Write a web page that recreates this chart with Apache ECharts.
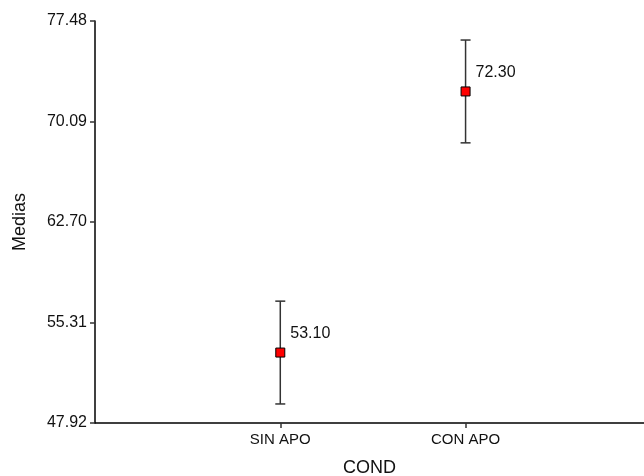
<!DOCTYPE html>
<html>
<head>
<meta charset="utf-8">
<script src="https://cdn.jsdelivr.net/npm/echarts@6/dist/echarts.min.js"></script>
<style>
html,body{margin:0;padding:0;background:#fff;}
#chart{width:644px;height:476px;}
</style>
</head>
<body>
<div id="chart"></div>
<script>
var categories = ['SIN APO', 'CON APO'];
var means = [53.10, 72.30];
var lower = [49.32, 68.52];
var upper = [56.88, 76.08];
var yTickLabels = ['47.92', '55.31', '62.70', '70.09', '77.48'];

var yTicks = yTickLabels.map(Number);
var xPositions = categories.map(function (c, i) { return i + 1; });
var font = '"Liberation Sans", Arial, sans-serif';

var errData = categories.map(function (c, i) { return [xPositions[i], lower[i], upper[i]]; });
var ptData = categories.map(function (c, i) { return [xPositions[i], means[i]]; });

var chart = echarts.init(document.getElementById('chart'));
chart.setOption({
  animation: false,
  backgroundColor: '#fff',
  grid: { left: 95, right: 0, top: 21, bottom: 53, outerBoundsMode: 'none', containLabel: false },
  xAxis: {
    type: 'value', min: 0, max: 2.963,
    name: 'COND', nameLocation: 'middle', nameGap: 36,
    nameTextStyle: { fontFamily: font, fontSize: 18, color: '#111' },
    axisLine: { lineStyle: { color: '#000', width: 1.5 } },
    axisTick: { customValues: xPositions, length: 5, lineStyle: { color: '#333', width: 1.5 } },
    axisLabel: {
      customValues: xPositions, margin: 9,
      fontFamily: font, fontSize: 15, color: '#111',
      formatter: function (v) { return categories[Math.round(v) - 1] || ''; }
    },
    splitLine: { show: false }
  },
  yAxis: {
    type: 'value', min: yTicks[0], max: yTicks[yTicks.length - 1],
    name: 'Medias', nameLocation: 'middle', nameGap: 66, nameRotate: 90,
    nameTextStyle: { fontFamily: font, fontSize: 18, color: '#111' },
    axisLine: { show: true, lineStyle: { color: '#000', width: 1.5 } },
    axisTick: { show: true, customValues: yTicks, length: 5, lineStyle: { color: '#333', width: 1.5 } },
    axisLabel: {
      customValues: yTicks, margin: 8,
      fontFamily: font, fontSize: 16, color: '#111',
      formatter: function (v) {
        for (var i = 0; i < yTicks.length; i++) { if (Math.abs(yTicks[i] - v) < 1e-6) return yTickLabels[i]; }
        return '';
      }
    },
    splitLine: { show: false }
  },
  series: [
    {
      type: 'custom',
      data: errData,
      renderItem: function (params, api) {
        var x = api.value(0);
        var lo = api.coord([x, api.value(1)]);
        var hi = api.coord([x, api.value(2)]);
        var hw = 5;
        var st = { stroke: '#333', lineWidth: 1.5 };
        return {
          type: 'group',
          children: [
            { type: 'line', shape: { x1: lo[0], y1: lo[1], x2: hi[0], y2: hi[1] }, style: st },
            { type: 'line', shape: { x1: lo[0] - hw, y1: lo[1], x2: lo[0] + hw, y2: lo[1] }, style: st },
            { type: 'line', shape: { x1: hi[0] - hw, y1: hi[1], x2: hi[0] + hw, y2: hi[1] }, style: st }
          ]
        };
      },
      z: 2
    },
    {
      type: 'scatter',
      data: ptData,
      symbol: 'rect',
      symbolSize: 9,
      itemStyle: { color: '#ff0000', borderColor: '#000', borderWidth: 1, opacity: 1 },
      label: {
        show: true, position: 'right', offset: [0, -19],
        fontFamily: font, fontSize: 16, color: '#111',
        formatter: function (p) { return p.value[1].toFixed(2); }
      },
      z: 3
    }
  ]
});
</script>
</body>
</html>
